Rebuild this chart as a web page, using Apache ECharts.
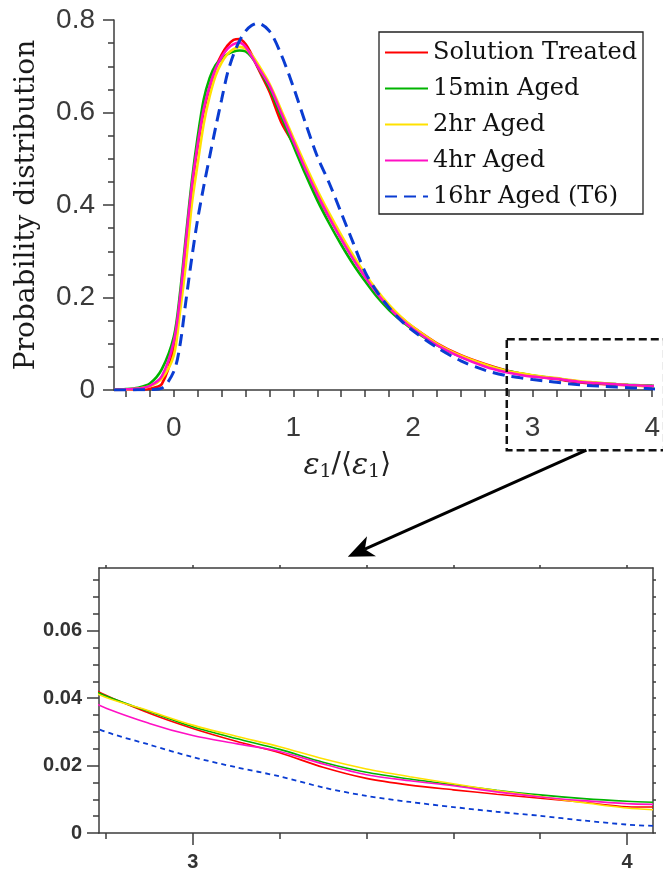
<!DOCTYPE html>
<html><head><meta charset="utf-8">
<script src="https://cdn.jsdelivr.net/npm/echarts@6/dist/echarts.min.js"></script>
<style>html,body{margin:0;padding:0;background:#fff}#c{width:663px;height:874px}</style>
</head><body><div id="c"></div>
<script>
// ---- data ----
const strainRatio = [-0.5,-0.4,-0.3,-0.2,-0.1,0,0.05,0.1,0.15,0.2,0.25,0.3,0.35,0.4,0.45,0.5,0.55,0.6,0.65,0.7,0.8,0.9,1.0,1.1,1.2,1.3,1.4,1.5,1.6,1.7,1.8,1.9,2.0,2.2,2.4,2.6,2.78,2.9,3.0,3.1,3.2,3.3,3.4,3.5,3.6,3.7,3.8,3.9,4.0,4.06];
const solutionTreated = [0,0.0005,0.001,0.003,0.013,0.09,0.185,0.31,0.435,0.528,0.603,0.655,0.697,0.725,0.745,0.757,0.759,0.748,0.726,0.698,0.645,0.578,0.532,0.476,0.422,0.373,0.327,0.285,0.246,0.211,0.181,0.157,0.136,0.101,0.075,0.056,0.0421,0.0355,0.031,0.0272,0.0238,0.0195,0.0162,0.0142,0.0128,0.0115,0.0103,0.0091,0.0078,0.0077];
const aged15min = [0.001,0.002,0.005,0.014,0.045,0.115,0.205,0.33,0.45,0.548,0.628,0.675,0.703,0.716,0.726,0.732,0.734,0.732,0.72,0.70,0.652,0.59,0.528,0.467,0.41,0.36,0.314,0.272,0.235,0.201,0.173,0.15,0.13,0.097,0.072,0.054,0.0417,0.036,0.0315,0.028,0.0248,0.021,0.018,0.016,0.0143,0.0127,0.0113,0.0102,0.0094,0.0091];
const aged2hr = [0.0003,0.001,0.003,0.008,0.025,0.075,0.165,0.27,0.40,0.49,0.575,0.635,0.68,0.708,0.727,0.737,0.742,0.738,0.725,0.706,0.662,0.604,0.545,0.487,0.432,0.382,0.335,0.291,0.251,0.215,0.184,0.158,0.136,0.1,0.074,0.055,0.0413,0.0362,0.032,0.0287,0.0256,0.022,0.019,0.0167,0.0146,0.0126,0.0108,0.009,0.0074,0.0069];
const aged4hr = [0.0005,0.0015,0.003,0.009,0.03,0.105,0.195,0.32,0.44,0.532,0.607,0.657,0.695,0.72,0.738,0.748,0.751,0.742,0.722,0.70,0.658,0.598,0.538,0.478,0.423,0.373,0.326,0.283,0.244,0.209,0.178,0.153,0.132,0.097,0.071,0.051,0.0382,0.0325,0.0289,0.0265,0.0242,0.0205,0.0173,0.0155,0.014,0.0122,0.0107,0.0096,0.0087,0.0085];
const aged16hrT6 = [0,0,0.0005,0.001,0.004,0.04,0.094,0.19,0.285,0.37,0.44,0.505,0.568,0.628,0.686,0.726,0.755,0.776,0.788,0.793,0.776,0.724,0.655,0.578,0.505,0.447,0.383,0.318,0.255,0.212,0.178,0.15,0.128,0.092,0.063,0.043,0.031,0.0262,0.0225,0.0195,0.0168,0.0135,0.011,0.0092,0.0077,0.0063,0.0051,0.0037,0.0025,0.0021];
const seriesNames = ['Solution Treated','15min Aged','2hr Aged','4hr Aged','16hr Aged (T6)'];
const topXLabels = [0,1,2,3,4];
const topXTicks = [-0.4,-0.2,0,0.2,0.4,0.6,0.8,1,1.2,1.4,1.6,1.8,2,2.2,2.4,2.6,2.8,3,3.2,3.4,3.6,3.8,4];
const zoomXLabels = [3,4];
const zoomXTicks = [2.8,3,3.2,3.4,3.6,3.8,4];
const zoomYLabels = [0,0.02,0.04,0.06];
const zoomYMinorTicks = [0,0.005,0.01,0.015,0.02,0.025,0.03,0.035,0.04,0.045,0.05,0.055,0.06,0.065,0.07,0.075];

// ---- style ----
const seriesData = [solutionTreated, aged15min, aged2hr, aged4hr, aged16hrT6];
const colors = ['#ff0000','#00b400','#ffe100','#ff10c4','#0a3cd2'];
const axisCol = '#3c3c3c';
const sans = 'Liberation Sans, Arial, sans-serif';
const serif = 'DejaVu Serif, serif';
const zoomX = [2.784, 4.06], zoomYMax = 0.0786;

const series = [];
seriesNames.forEach((name, i) => {
  const dashed = i === 4;
  const data = strainRatio.map((x, k) => [x, seriesData[i][k]]);
  series.push({name, type:'line', xAxisIndex:0, yAxisIndex:0, data, showSymbol:false, symbol:'none',
    smooth:0.3, clip:true, color:colors[i],
    lineStyle:{color:colors[i], width: dashed ? 3 : 2.6, type: dashed ? [12,7] : 'solid'}, z: 2+i});
  series.push({name, type:'line', xAxisIndex:1, yAxisIndex:1, data, showSymbol:false, symbol:'none',
    smooth:0.3, clip:true, color:colors[i],
    lineStyle:{color:colors[i], width: dashed ? 1.8 : 1.6, type: dashed ? [5,4] : 'solid'}, z: 2+i});
});

const lineSt = {color: axisCol, width: 1.5};
const fmt = v => String(+(+v).toFixed(3));
const option = {
  animation:false,
  grid:[
    {left:114, top:20, width:540, height:370},
    {left:99, top:568, width:554, height:265}
  ],
  xAxis:[
    {gridIndex:0, type:'value', min:-0.5, max:4, position:'bottom',
     axisLine:{show:true, onZero:false, lineStyle:lineSt},
     axisTick:{show:true, customValues:topXTicks, length:7, lineStyle:lineSt},
     axisLabel:{customValues:topXLabels, fontFamily:sans, fontSize:28, color:'#3a3a3a', margin:24, formatter:fmt},
     splitLine:{show:false}},
    {gridIndex:1, type:'value', min:zoomX[0], max:zoomX[1], position:'bottom',
     axisLine:{show:true, onZero:false, lineStyle:lineSt},
     axisTick:{show:true, customValues:zoomXTicks, length:6, lineStyle:lineSt},
     axisLabel:{show:false}, splitLine:{show:false}},
    {gridIndex:1, type:'value', min:zoomX[0], max:zoomX[1], position:'bottom',
     axisLine:{show:false, onZero:false},
     axisTick:{show:true, customValues:zoomXLabels, length:12, lineStyle:lineSt},
     axisLabel:{customValues:zoomXLabels, fontFamily:sans, fontWeight:'bold', fontSize:20, color:'#333', margin:19, formatter:fmt},
     splitLine:{show:false}},
    {gridIndex:1, type:'value', min:zoomX[0], max:zoomX[1], position:'top',
     axisLine:{show:true, onZero:false, lineStyle:lineSt},
     axisTick:{show:true, customValues:zoomXTicks, length:3, lineStyle:lineSt},
     axisLabel:{show:false}, splitLine:{show:false}}
  ],
  yAxis:[
    {gridIndex:0, type:'value', min:0, max:0.8, interval:0.2, position:'left',
     axisLine:{show:true, onZero:false, lineStyle:lineSt},
     axisTick:{show:true, length:11, lineStyle:lineSt},
     minorTick:{show:true, splitNumber:4, length:6, lineStyle:lineSt},
     axisLabel:{fontFamily:sans, fontSize:28, color:'#3a3a3a', margin:19, formatter:fmt},
     splitLine:{show:false}, minorSplitLine:{show:false},
     name:'Probability distribution', nameLocation:'middle', nameGap:73, nameRotate:90,
     nameTextStyle:{fontFamily:serif, fontSize:28, color:'#1a1a1a'}},
    {gridIndex:1, type:'value', min:0, max:zoomYMax, position:'left',
     axisLine:{show:true, onZero:false, lineStyle:lineSt},
     axisTick:{show:true, customValues:zoomYMinorTicks, length:6, lineStyle:lineSt},
     axisLabel:{show:false}, splitLine:{show:false}},
    {gridIndex:1, type:'value', min:0, max:zoomYMax, position:'left',
     axisLine:{show:false, onZero:false},
     axisTick:{show:true, customValues:zoomYLabels, length:12, lineStyle:lineSt},
     axisLabel:{customValues:zoomYLabels, fontFamily:sans, fontWeight:'bold', fontSize:20, color:'#333', margin:17, formatter:fmt},
     splitLine:{show:false}},
    {gridIndex:1, type:'value', min:0, max:zoomYMax, position:'right',
     axisLine:{show:true, onZero:false, lineStyle:lineSt},
     axisTick:{show:true, customValues:zoomYMinorTicks, length:3, lineStyle:lineSt},
     axisLabel:{show:false}, splitLine:{show:false}}
  ],
  legend:{
    data:seriesNames, orient:'vertical', left:379, top:32, selectedMode:false,
    itemWidth:43, itemHeight:14, itemGap:11, padding:[8,0,6,5],
    itemStyle:{opacity:0, borderWidth:0},
    borderWidth:0, backgroundColor:'transparent',
    textStyle:{fontFamily:serif, fontSize:24, color:'#111', lineHeight:25}
  },
  series
};
const chart = echarts.init(document.getElementById('c'), null, {renderer:'canvas'});
chart.setOption(option);

// ---- annotations: legend frame, zoom box, arrow, x-axis title ----
const px = (g, v) => chart.convertToPixel({gridIndex:g}, v);
const bA = px(0, [zoomX[0], 0.11]);
const bB = px(0, [4.1, -0.13]);
const aS = px(0, [3.45, -0.13]);
const aT = px(1, [3.357, zoomYMax + 0.0033]);
const dx = aT[0]-aS[0], dy = aT[1]-aS[1], len = Math.hypot(dx, dy);
const ux = dx/len, uy = dy/len, nx = -uy, ny = ux;
const L = 26, W = 11;
const base = [aT[0]-ux*L, aT[1]-uy*L];
const notch = [aT[0]-ux*L*0.72, aT[1]-uy*L*0.72];
const titleX = px(0, [1.45, 0])[0];
chart.setOption({graphic:[
  {type:'rect', z:0, shape:{x:379, y:32, width:264, height:182},
   style:{fill:'#fff', stroke:'#222', lineWidth:1.3}},
  {type:'rect', z:100, shape:{x:bA[0], y:bA[1], width:bB[0]-bA[0], height:bB[1]-bA[1]},
   style:{fill:'none', stroke:'#111', lineWidth:2.5, lineDash:[8,4]}},
  {type:'line', z:100, shape:{x1:aS[0], y1:aS[1], x2:notch[0], y2:notch[1]},
   style:{stroke:'#000', lineWidth:3}},
  {type:'polygon', z:100, shape:{points:[aT, [base[0]+nx*W, base[1]+ny*W], notch, [base[0]-nx*W, base[1]-ny*W]]},
   style:{fill:'#000'}},
  {type:'text', z:100, x:titleX, y:451,
   style:{text:'{e|ε}{s|1}{n|/⟨}{e|ε}{s|1}{n|⟩}', align:'center', verticalAlign:'top',
     rich:{
       e:{fontFamily:serif, fontStyle:'italic', fontSize:30, lineHeight:31, verticalAlign:'top', fill:'#222'},
       n:{fontFamily:'DejaVu Sans, sans-serif', fontSize:28, lineHeight:31, verticalAlign:'top', fill:'#222'},
       s:{fontFamily:serif, fontSize:19, lineHeight:19, padding:[17,0,0,0], verticalAlign:'bottom', fill:'#222'}
     }}}
]});
</script>
</body></html>
